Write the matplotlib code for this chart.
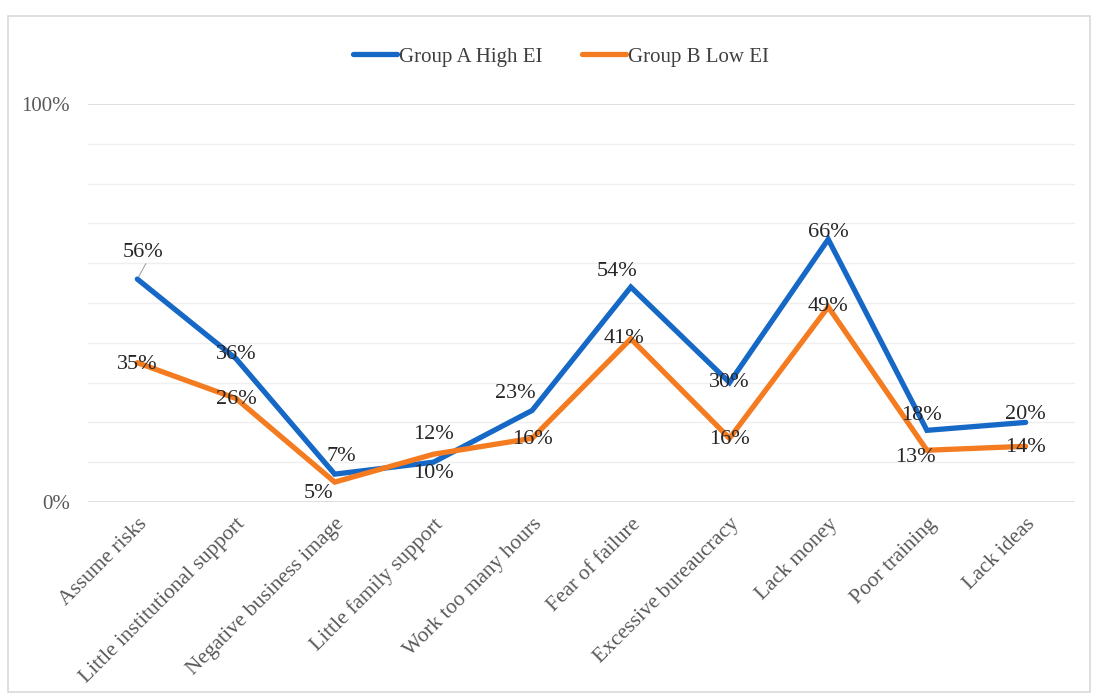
import matplotlib
matplotlib.use("Agg")
import matplotlib.pyplot as plt
from matplotlib.patches import Rectangle
from matplotlib.ticker import MultipleLocator, FixedLocator

plt.rcParams['font.family'] = ['Liberation Serif', 'DejaVu Serif']

categories = ["Assume risks", "Little institutional support", "Negative business image",
              "Little family support", "Work too many hours", "Fear of failure",
              "Excessive bureaucracy", "Lack money", "Poor training", "Lack ideas"]
group_a = [56, 36, 7, 10, 23, 54, 30, 66, 18, 20]
group_b = [35, 26, 5, 12, 16, 41, 16, 49, 13, 14]
series_names = ["Group A High EI", "Group B Low EI"]

# label offsets (points) for each data label
offs_a = [(4, 19), (0, 3), (5, 13), (0, -8), (-12, 12), (-10, 11), (0, 0), (0, 5), (-4, 11), (0, 6)]
offs_b = [(0, -1), (0, -1), (-12, -8), (0, 14), (0, -1), (-5, 0), (0, -1), (0, 0), (-8, -5), (0, -1)]

blue = "#1668C6"
orange = "#F47B20"

fig = plt.figure(figsize=(10.93, 6.95), dpi=100)
ax = fig.add_axes([0.0805, 0.2777, 0.903, 0.5727])

x = list(range(len(categories)))
vals_a = [v / 100 for v in group_a]
vals_b = [v / 100 for v in group_b]
la, = ax.plot(x, vals_a, color=blue, lw=3.8, solid_joinstyle='miter', solid_capstyle='round', zorder=3)
lb, = ax.plot(x, vals_b, color=orange, lw=3.8, solid_joinstyle='miter', solid_capstyle='round', zorder=3)

for xi, v, o in zip(x, group_a, offs_a):
    ax.annotate(f"{v}%", (xi, v / 100), xytext=o, textcoords='offset points',
                ha='center', va='center', fontsize=16, color="#262626", zorder=4)
for xi, v, o in zip(x, group_b, offs_b):
    ax.annotate(f"{v}%", (xi, v / 100), xytext=o, textcoords='offset points',
                ha='center', va='center', fontsize=16, color="#262626", zorder=4)
# leader line for first label
ax.annotate("", (0, 0.56), xytext=(0.1, 0.605),
            arrowprops=dict(arrowstyle='-', color='#a6a6a6', lw=0.8))

ax.set_xlim(-0.5, len(categories) - 0.5)
ax.set_ylim(0, 1)
ax.yaxis.set_major_locator(FixedLocator([0, 1]))
ax.yaxis.set_minor_locator(MultipleLocator(0.1))
ax.set_yticklabels(["0%", "100%"])
ax.set_xticks(x)
ax.set_xticklabels(categories, rotation=45, ha='right', rotation_mode='anchor')
ax.tick_params(axis='x', length=0, pad=9, labelsize=15.5, labelcolor="#595959")
ax.tick_params(axis='y', which='both', length=0, pad=13, labelsize=15, labelcolor="#595959")
ax.grid(axis='y', which='minor', color='#efefef', lw=1)
ax.grid(axis='y', which='major', color='#d9d9d9', lw=1.2)
for s in ax.spines.values():
    s.set_visible(False)

fig.legend([la, lb], series_names, loc='center', bbox_to_anchor=(0.513, 0.918), ncol=2,
           frameon=False, fontsize=15, handlelength=2.1, handletextpad=0.1, columnspacing=1.9,
           labelcolor="#404040")

# outer chart frame
fig.patches.append(Rectangle((8 / 1093, 3 / 695), 1082 / 1093, 676 / 695,
                             transform=fig.transFigure, fill=False, ec='#d9d9d9', lw=1.2))

fig.savefig("out.png", dpi=100)
